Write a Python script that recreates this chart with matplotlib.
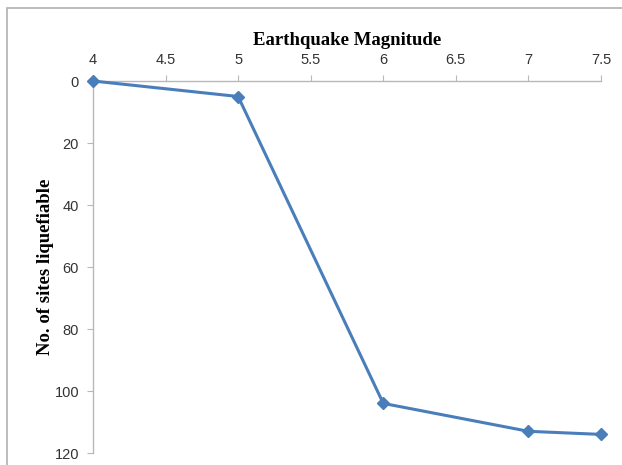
import matplotlib
matplotlib.use("Agg")
import matplotlib.pyplot as plt
from matplotlib.patches import Rectangle

magnitude = [4, 5, 6, 7, 7.5]
sites = [0, 5, 104, 113, 114]
x_ticks = [4, 4.5, 5, 5.5, 6, 6.5, 7, 7.5]
y_ticks = [0, 20, 40, 60, 80, 100, 120]

fig = plt.figure(figsize=(6.22, 4.65), dpi=100)
# chart-area frame
fig.patches.append(Rectangle((7 / 622, -0.05), 1.1, 1 - 8 / 465 + 0.05,
                             transform=fig.transFigure, fill=False,
                             edgecolor="#b0b0b0", linewidth=1.2))

ax = fig.add_axes([0.1495, 0.0258, 0.8167, 0.80])
ax.plot(magnitude, sites, color="#4a7ebb", linewidth=2.2, marker="D",
        markersize=6.5, clip_on=False, zorder=3)

ax.set_xlim(4, 7.5)
ax.set_ylim(120, 0)
ax.set_xticks(x_ticks)
ax.set_xticklabels([f"{t:g}" for t in x_ticks])
ax.set_yticks(y_ticks)
ax.xaxis.tick_top()
ax.xaxis.set_label_position("top")

for s in ("right", "bottom"):
    ax.spines[s].set_visible(False)
for s in ("left", "top"):
    ax.spines[s].set_color("#b8b8b8")
    ax.spines[s].set_linewidth(1.0)
ax.tick_params(length=4, color="#b8b8b8", labelsize=10.5, labelcolor="#333333",
               pad=6)
for lab in ax.get_xticklabels() + ax.get_yticklabels():
    lab.set_family("Liberation Sans")

ax.set_xlabel("Earthquake Magnitude", family="Liberation Serif",
              fontweight="bold", fontsize=13.5, labelpad=6)
ax.set_ylabel("No. of sites liquefiable", family="Liberation Serif",
              fontweight="bold", fontsize=13.5, labelpad=0)

fig.savefig("out.png", dpi=100)
